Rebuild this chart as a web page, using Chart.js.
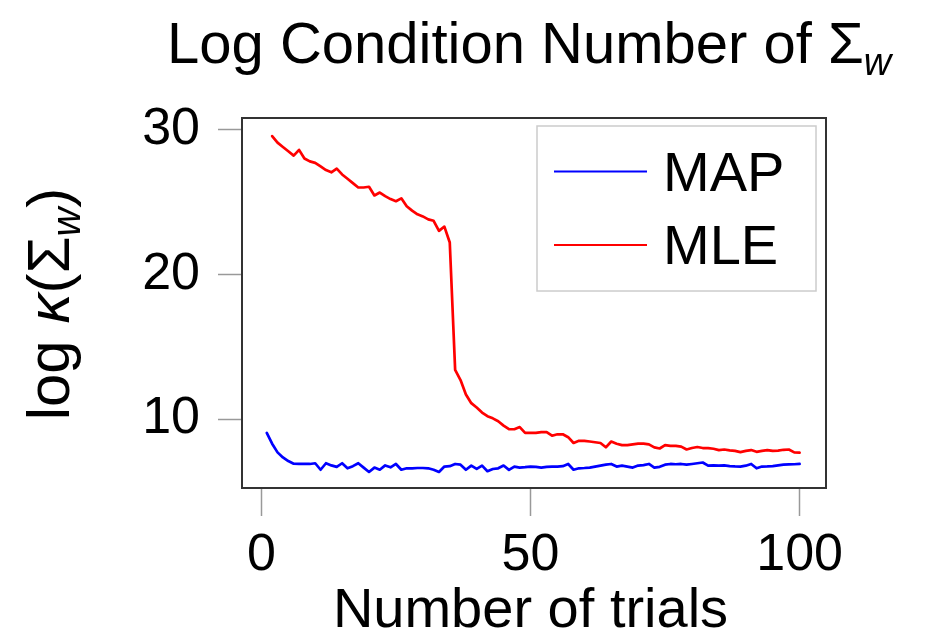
<!DOCTYPE html>
<html>
<head>
<meta charset="utf-8">
<script src="https://cdn.jsdelivr.net/npm/chart.js@4.4.1/dist/chart.umd.min.js"></script>
<style>
  html,body{margin:0;padding:0;background:#fff;}
  #wrap{width:925px;height:636px;position:relative;}
</style>
</head>
<body>
<div id="wrap"><canvas id="chart"></canvas></div>
<script>
// Log condition number of Sigma_w vs number of trials, MAP vs MLE.

const X_TICKS = [0, 50, 100];
const Y_TICKS = [10, 20, 30];

const MAP_FIRST = 1;   // MAP starts at trial 1
const MLE_FIRST = 2;   // MLE starts at trial 2

const MAP_VALUES = [
  9.05, 8.3, 7.7, 7.35, 7.1, 6.92, 6.9, 6.9, 6.9, 6.95,
  6.5, 6.95, 6.8, 6.7, 6.95, 6.6, 6.75, 6.95, 6.65, 6.35,
  6.65, 6.5, 6.8, 6.67, 6.9, 6.5, 6.6, 6.6, 6.62, 6.62,
  6.6, 6.5, 6.35, 6.72, 6.75, 6.9, 6.85, 6.5, 6.79, 6.56,
  6.79, 6.4, 6.55, 6.6, 6.79, 6.49, 6.72, 6.65, 6.68, 6.72,
  6.7, 6.65, 6.7, 6.72, 6.72, 6.75, 6.9, 6.5, 6.6, 6.62,
  6.65, 6.72, 6.79, 6.85, 6.9, 6.72, 6.78, 6.72, 6.65, 6.79,
  6.82, 6.9, 6.65, 6.7, 6.85, 6.9, 6.88, 6.9, 6.85, 6.9,
  6.95, 7.0, 6.78, 6.8, 6.78, 6.8, 6.75, 6.73, 6.72, 6.78,
  6.9, 6.6, 6.72, 6.73, 6.75, 6.8, 6.85, 6.87, 6.88, 6.9
];

const MLE_VALUES = [
  29.55, 29.1, 28.8, 28.5, 28.2, 28.6, 28.0, 27.8, 27.7,
  27.45, 27.2, 27.05, 27.3, 26.9, 26.6, 26.3, 26.0, 26.0, 26.05,
  25.45, 25.65, 25.4, 25.2, 25.05, 25.25, 24.7, 24.4, 24.15, 24.0,
  23.8, 23.7, 23.0, 23.3, 22.2, 13.4, 12.7, 11.7, 11.1, 10.8,
  10.45, 10.2, 10.05, 9.85, 9.55, 9.3, 9.3, 9.45, 9.05, 9.05,
  9.05, 9.1, 9.1, 8.85, 8.95, 8.95, 8.75, 8.35, 8.5, 8.5,
  8.45, 8.4, 8.35, 8.05, 8.45, 8.3, 8.2, 8.2, 8.25, 8.3,
  8.3, 8.25, 8.05, 7.97, 8.2, 8.15, 8.15, 8.1, 7.9, 8.0,
  8.07, 8.0, 8.0, 7.95, 7.86, 7.9, 7.84, 7.8, 7.72, 7.8,
  7.86, 7.74, 7.8, 7.86, 7.8, 7.82, 7.88, 7.9, 7.7, 7.68
];

const SERIES = [
  {label:"MAP", first:MAP_FIRST, values:MAP_VALUES, color:"#0000ff"},
  {label:"MLE", first:MLE_FIRST, values:MLE_VALUES, color:"#ff0000"}
];

const FONT = "'Liberation Sans', Arial, sans-serif";

// draws a run of [text, italic, size, dy] pieces starting at x on baseline y
function drawRuns(ctx, runs, x, y){
  runs.forEach(([t, it, sz, dy])=>{
    ctx.font = (it?"italic ":"") + sz + "px " + FONT;
    ctx.fillText(t, x, y + dy);
    x += ctx.measureText(t).width;
  });
}
function runsWidth(ctx, runs){
  let w=0;
  runs.forEach(([t, it, sz])=>{ ctx.font=(it?"italic ":"")+sz+"px "+FONT; w+=ctx.measureText(t).width; });
  return w;
}

const decor = {
  id:"decor",
  beforeDraw(c){
    const ctx=c.ctx;
    ctx.save(); ctx.fillStyle="#fff"; ctx.fillRect(0,0,c.width,c.height); ctx.restore();
  },
  afterDraw(c){
    const ctx=c.ctx, a=c.chartArea;
    ctx.save();
    // frame
    ctx.strokeStyle="#333"; ctx.lineWidth=2;
    ctx.strokeRect(a.left, a.top, a.right-a.left, a.bottom-a.top);

    ctx.fillStyle="#000"; ctx.textBaseline="alphabetic"; ctx.textAlign="left";
    // title
    drawRuns(ctx, [["Log Condition Number of \u03A3", false, 58, 0], ["w", true, 38, 12]], 167, 63);

    // x title
    ctx.font="56px "+FONT; ctx.textAlign="center";
    ctx.fillText("Number of trials", (c.scales.x.getPixelForValue(50)), 627);
    ctx.textAlign="left";

    // y title (rotated)
    const yr=[["log ", false, 60, 0], ["\u03BA", true, 60, 0], ["(\u03A3", false, 60, 0], ["w", true, 40, 11], [")", false, 60, 0]];
    ctx.save();
    ctx.translate(69, 304); ctx.rotate(-Math.PI/2);
    drawRuns(ctx, yr, -runsWidth(ctx, yr)/2, 0);
    ctx.restore();

    // legend
    const lx=537, ly=126, lw=279, lh=165;
    ctx.fillStyle="#fff"; ctx.fillRect(lx,ly,lw,lh);
    ctx.strokeStyle="#cccccc"; ctx.lineWidth=1.5; ctx.strokeRect(lx,ly,lw,lh);
    c.data.datasets.forEach((d,i)=>{
      const yy = 171.5 + i*73.5;
      ctx.strokeStyle=d.borderColor; ctx.lineWidth=2;
      ctx.beginPath(); ctx.moveTo(554,yy); ctx.lineTo(647,yy); ctx.stroke();
      ctx.fillStyle="#000"; ctx.font="56px "+FONT;
      ctx.fillText(d.label, 663, yy+19);
    });
    ctx.restore();
  }
};

new Chart(document.getElementById("chart"), {
  type:"line",
  data:{
    datasets: SERIES.map(s=>({
      label:s.label,
      data:s.values.map((v,i)=>({x:s.first+i, y:v})),
      borderColor:s.color, backgroundColor:s.color,
      borderWidth:2.7, pointRadius:0, tension:0, fill:false,
      borderJoinStyle:"round", borderCapStyle:"round"
    }))
  },
  options:{
    responsive:true, maintainAspectRatio:false, animation:false,
    devicePixelRatio:1,
    layout:{padding:{top:118, right:99, left:0, bottom:0}},
    plugins:{legend:{display:false}, tooltip:{enabled:false}, title:{display:false}},
    scales:{
      x:{
        type:"linear", min:-3.6, max:104.9,
        afterBuildTicks:s=>{ s.ticks = X_TICKS.map(v=>({value:v})); },
        afterFit:s=>{ s.height = 148; },
        grid:{drawOnChartArea:false, drawTicks:true, tickLength:28, color:"#999", tickWidth:1.5},
        border:{display:false},
        ticks:{font:{family:FONT, size:52}, color:"#000", padding:8, maxRotation:0}
      },
      y:{
        type:"linear", min:5.24, max:30.8,
        afterBuildTicks:s=>{ s.ticks = Y_TICKS.map(v=>({value:v})); },
        afterFit:s=>{ s.width = 242; },
        grid:{drawOnChartArea:false, drawTicks:true, tickLength:24, color:"#999", tickWidth:1.5},
        border:{display:false},
        ticks:{font:{family:FONT, size:52}, color:"#000", padding:18}
      }
    }
  },
  plugins:[decor]
});
</script>
</body>
</html>
